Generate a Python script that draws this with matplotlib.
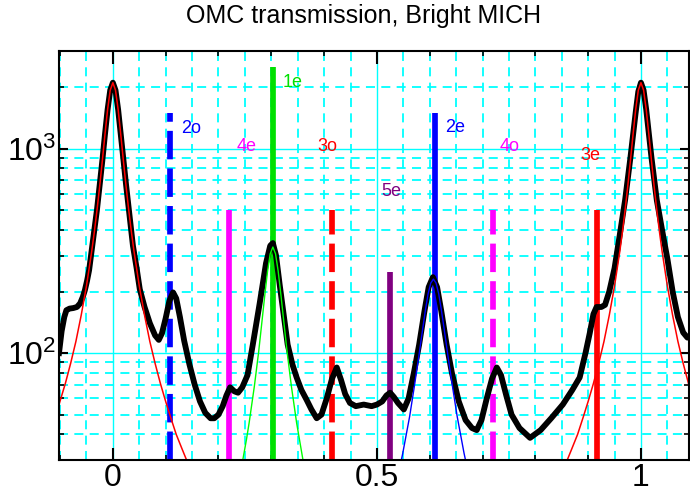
import matplotlib
matplotlib.use('Agg')
import matplotlib.pyplot as plt
from matplotlib.ticker import FixedLocator, NullFormatter, LogLocator

plt.rcParams['font.family'] = ['Liberation Sans', 'DejaVu Sans']
plt.rcParams['mathtext.fontset'] = 'custom'
plt.rcParams['mathtext.rm'] = 'Liberation Sans'
plt.rcParams['mathtext.it'] = 'Liberation Sans:italic'
plt.rcParams['mathtext.bf'] = 'Liberation Sans:bold'

# ---------------- data ----------------
black_x = [-0.102, -0.097, -0.092, -0.088, -0.082, -0.075, -0.068, -0.062, -0.057, -0.053,
           -0.049, -0.045, -0.04, -0.035, -0.03, -0.025, -0.02, -0.015, -0.01, -0.005,
           0.0, 0.005, 0.01, 0.015, 0.02, 0.025, 0.03, 0.038, 0.045, 0.051,
           0.06, 0.07, 0.08, 0.087, 0.093, 0.1, 0.107, 0.114, 0.12, 0.127,
           0.135, 0.145, 0.155, 0.165, 0.175, 0.185, 0.192, 0.2, 0.208, 0.215,
           0.222, 0.23, 0.237, 0.245, 0.255, 0.265, 0.278, 0.29, 0.298, 0.303,
           0.309, 0.316, 0.324, 0.331, 0.34, 0.348, 0.357, 0.367, 0.376, 0.386,
           0.395, 0.405, 0.415, 0.424, 0.432, 0.44, 0.449, 0.46, 0.475, 0.49,
           0.5, 0.51, 0.518, 0.525, 0.532, 0.54, 0.551, 0.56, 0.57, 0.58,
           0.59, 0.598, 0.606, 0.614, 0.622, 0.632, 0.642, 0.655, 0.668, 0.68,
           0.689, 0.698, 0.708, 0.718, 0.727, 0.735, 0.745, 0.755, 0.77, 0.79,
           0.81, 0.83, 0.852, 0.87, 0.884, 0.895, 0.903, 0.91, 0.916, 0.925,
           0.932, 0.94, 0.95, 0.96, 0.97, 0.98, 0.99, 0.995, 1.0, 1.005,
           1.01, 1.02, 1.03, 1.04, 1.05, 1.06, 1.07, 1.08, 1.088, 1.093]
black_y = [100, 128, 150, 162, 165, 166, 168, 175, 188, 203,
           225, 254, 320, 400, 505, 660, 870, 1170, 1550, 1930,
           2100, 1930, 1550, 1170, 880, 665, 510, 335, 260, 205,
           168, 140, 122, 116, 125, 148, 180, 198, 185, 150,
           115, 88, 70, 58, 51, 48, 48, 50, 55, 62,
           68, 65, 64, 68, 78, 110, 175, 275, 335, 345,
           300, 215, 150, 110, 88, 76, 66, 59, 53, 48,
           50, 60, 75, 85, 74, 63, 57, 55, 56, 55,
           56, 58, 62, 64, 61, 57, 53, 60, 80, 110,
           160, 210, 235, 210, 160, 110, 80, 58, 47, 43,
           42, 47, 60, 75, 85, 78, 62, 50, 43, 38.5,
           42, 48, 56, 66, 76, 100, 125, 155, 168, 168,
           172, 200, 260, 380, 560, 900, 1500, 1900, 2100, 1930,
           1550, 900, 560, 400, 290, 200, 150, 126, 119, 121]

red0_x = [-0.102, -0.09, -0.08, -0.07, -0.06, -0.05, -0.04, -0.035, -0.03, -0.025, -0.02,
          -0.015, -0.01, -0.005, 0.0, 0.005, 0.01, 0.015, 0.02, 0.025, 0.03, 0.035,
          0.04, 0.05, 0.06, 0.07, 0.08, 0.09, 0.1, 0.11, 0.12, 0.13, 0.14]
red0_y = [56, 71, 89, 114, 153, 213, 315, 393, 501, 653, 869,
          1169, 1551, 1929, 2100, 1929, 1551, 1169, 869, 653, 501, 393,
          315, 213, 153, 114, 89, 71, 58, 48, 40, 34.5, 29.8]

red1_x = [0.86, 0.87, 0.88, 0.89, 0.9, 0.91, 0.92, 0.93, 0.94, 0.95, 0.96, 0.965,
          0.97, 0.975, 0.98, 0.985, 0.99, 0.995, 1.0, 1.005, 1.01, 1.015, 1.02,
          1.025, 1.03, 1.035, 1.04, 1.05, 1.06, 1.07, 1.08, 1.093]
red1_y = [29.8, 34.5, 40, 48, 58, 71, 89, 114, 153, 213, 315, 393,
          501, 653, 869, 1169, 1551, 1929, 2100, 1929, 1551, 1169, 869,
          653, 501, 393, 315, 213, 153, 114, 89, 66.4]

green_x = [0.240, 0.246, 0.253, 0.258, 0.268, 0.276, 0.283, 0.288, 0.293, 0.298, 0.303,
           0.308, 0.313, 0.318, 0.323, 0.330, 0.338, 0.348, 0.360, 0.366]
green_y = [24.9, 30, 37.8, 45.5, 69, 101, 148, 195, 252, 306, 330,
           306, 252, 195, 148, 101, 69, 45.5, 30, 24.9]

blue_x = [0.542, 0.549, 0.562, 0.571, 0.579, 0.587, 0.592, 0.597, 0.602, 0.607,
          0.612, 0.617, 0.622, 0.627, 0.635, 0.643, 0.652, 0.665, 0.672]
blue_y = [26.6, 32.4, 49, 69, 95, 133, 163, 195, 220, 230,
          220, 195, 163, 133, 95, 69, 49, 32.4, 26.6]

mode_names = ['2o', '4e', '1e', '3o', '5e', '2e', '4o', '3e']
mode_x = [0.1085, 0.219, 0.303, 0.415, 0.525, 0.610, 0.7203, 0.916]
mode_top = [1500, 500, 2500, 500, 250, 1500, 500, 500]
mode_colors = ['#0000ff', '#ff00ff', '#00e000', '#ff0000', '#800080', '#0000ff', '#ff00ff', '#ff0000']
mode_dashed = [True, False, False, True, False, False, True, False]
label_x = [0.130, 0.235, 0.321, 0.388, 0.5087, 0.629, 0.733, 0.886]
label_y = [1250, 1020, 2100, 1020, 616, 1265, 1020, 925]

x_ticks = [0, 0.5, 1]
x_tick_labels = ['0', '0.5', '1']

# ---------------- figure ----------------
W, H = 690, 493
fig = plt.figure(figsize=(W / 100, H / 100), dpi=100)
ax = fig.add_axes([59 / W, 1 - 460 / H, 630 / W, 409 / H])
ax.set_yscale('log')
ymin, ymax = 30, 3000
xmin, xmax = -0.102, 1.091
ax.set_ylim(ymin, ymax)
ax.set_xlim(xmin, xmax)

# grid
cyan = '#00ffff'
for i in range(-2, 23):
    v = i * 0.05
    if v < xmin or v > xmax:
        continue
    if i % 10 == 0:
        ax.axvline(v, color=cyan, lw=1.0, zorder=0)
    else:
        ax.axvline(v, color=cyan, lw=1.3, ls=(0, (5, 3.5)), zorder=0)
for dec in [10, 100, 1000]:
    for m in range(1, 10):
        val = dec * m
        if val < ymin or val > ymax:
            continue
        if m == 1:
            ax.axhline(val, color=cyan, lw=1.0, zorder=0)
        else:
            ax.axhline(val, color=cyan, lw=1.3, ls=(0, (5, 3.5)), zorder=0)

# mode bars
for name, xv, top, c, d, lx, ly in zip(mode_names, mode_x, mode_top, mode_colors,
                                       mode_dashed, label_x, label_y):
    ax.plot([xv, xv], [ymin, top], color=c, lw=4.1,
            ls=(0, (5, 1.6)) if d else '-', solid_capstyle='butt',
            dash_capstyle='butt', zorder=2)
    ax.text(lx, ly, name, color=c, fontsize=13, ha='left', va='center', zorder=5)

# measured curve
ax.plot(black_x, black_y, color='black', lw=4.2, zorder=3, solid_joinstyle='round')

# fits
ax.plot(red0_x, red0_y, color='#ff0000', lw=1.1, zorder=4)
ax.plot(red1_x, red1_y, color='#ff0000', lw=1.1, zorder=4)
ax.plot(green_x, green_y, color='#00ff00', lw=1.0, zorder=4)
ax.plot(blue_x, blue_y, color='#0000ff', lw=1.0, zorder=4)

# ticks
ax.set_xticks(x_ticks)
ax.set_xticklabels(x_tick_labels)
ax.xaxis.set_minor_locator(FixedLocator([-0.1, 0.1, 0.2, 0.3, 0.4, 0.6, 0.7, 0.8, 0.9]))
ax.yaxis.set_major_locator(LogLocator(base=10, numticks=10))
ax.yaxis.set_minor_locator(LogLocator(base=10, subs=range(2, 10), numticks=20))
ax.yaxis.set_minor_formatter(NullFormatter())
ax.tick_params(axis='x', which='major', direction='in', top=True, length=9,
               width=1.5, labelsize=23, pad=2)
ax.tick_params(axis='x', which='minor', direction='in', top=True, length=3.6, width=1.2)
ax.tick_params(axis='y', which='major', direction='in', right=True, length=6.5,
               width=1.5, labelsize=23, pad=2)
ax.tick_params(axis='y', which='minor', direction='in', right=True, length=3.6, width=1.2)

for s in ax.spines.values():
    s.set_linewidth(1.5)
    s.set_color('black')
    s.set_zorder(6)

fig.text(364 / W, 1 - 23.5 / H, 'OMC transmission, Bright MICH', fontsize=18,
         ha='center', va='baseline')

fig.savefig('out.png', dpi=100)
